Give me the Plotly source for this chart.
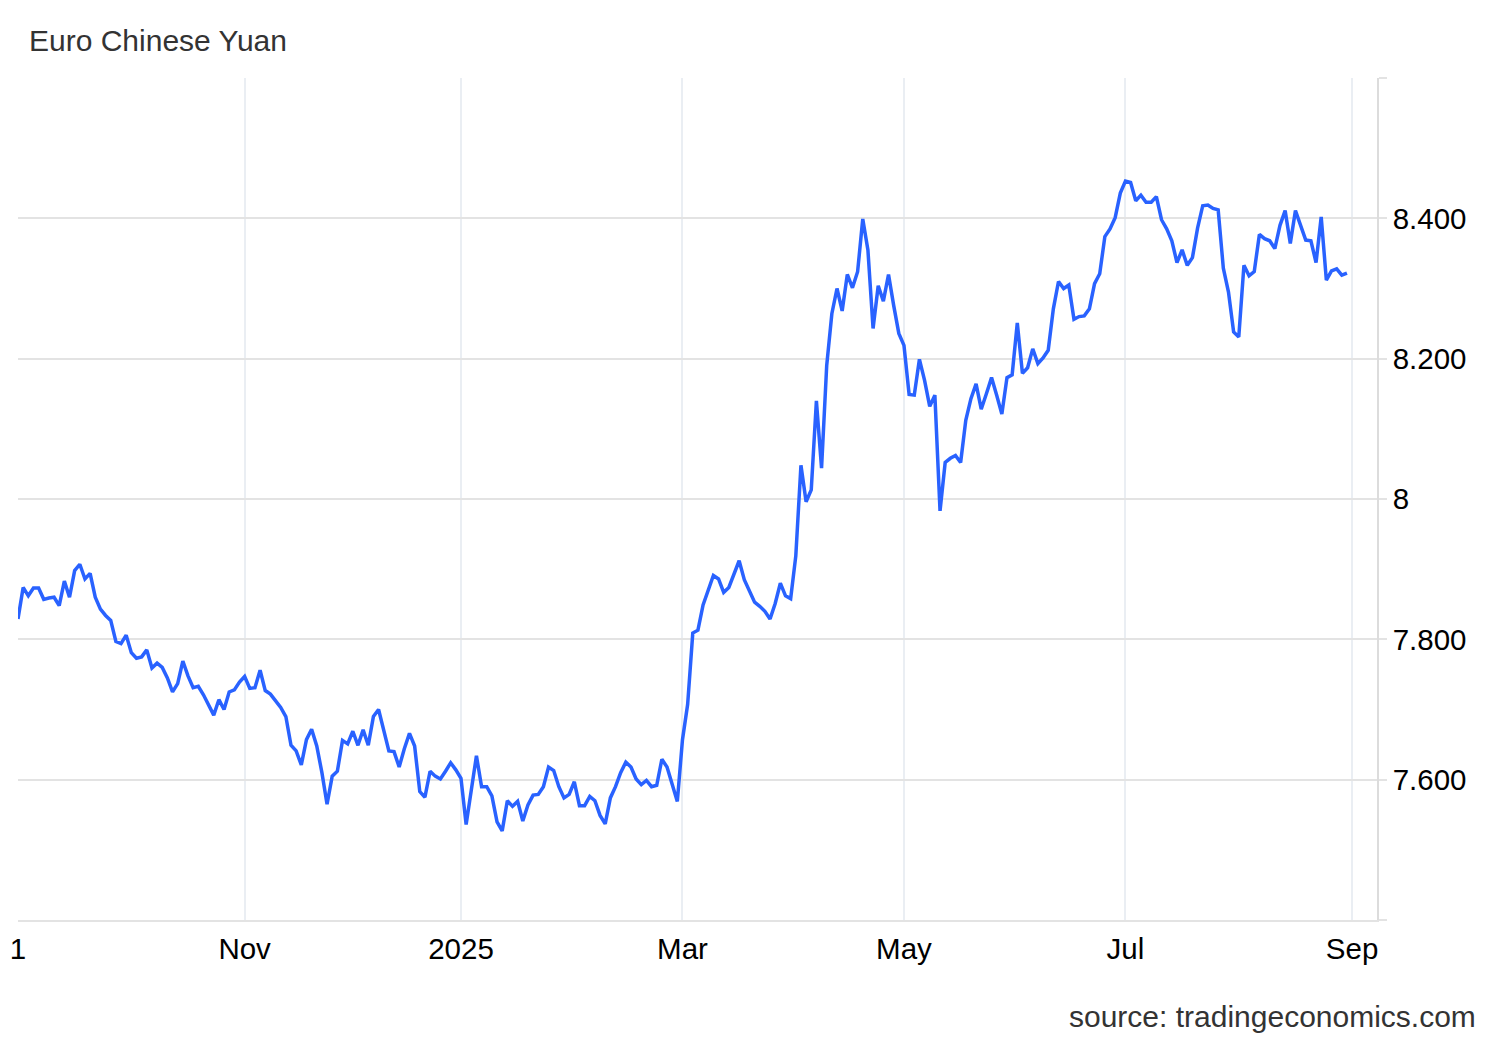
import plotly.graph_objects as go
import pandas as pd

# EUR/CNY daily closes (trading days)
values = [
    7.829, 7.874, 7.862, 7.873, 7.873, 7.857, 7.859, 7.860, 7.848, 7.883,
    7.860, 7.898, 7.907, 7.886, 7.894, 7.860, 7.843, 7.834, 7.827, 7.797,
    7.794, 7.806, 7.781, 7.773, 7.775, 7.785, 7.759, 7.766, 7.760, 7.745,
    7.725, 7.737, 7.769, 7.748, 7.731, 7.733, 7.721, 7.707, 7.692, 7.714,
    7.700, 7.725, 7.728, 7.739, 7.747, 7.730, 7.731, 7.756, 7.727, 7.722,
    7.713, 7.703, 7.690, 7.649, 7.641, 7.621, 7.657, 7.672, 7.648, 7.610,
    7.565, 7.605, 7.612, 7.656, 7.651, 7.669, 7.649, 7.671, 7.649, 7.690,
    7.700, 7.671, 7.641, 7.640, 7.618, 7.644, 7.666, 7.648, 7.583, 7.575,
    7.612, 7.605, 7.601, 7.612, 7.624, 7.614, 7.602, 7.536, 7.588, 7.634,
    7.590, 7.590, 7.577, 7.540, 7.527, 7.570, 7.562, 7.569, 7.541, 7.564,
    7.578, 7.579, 7.590, 7.618, 7.613, 7.590, 7.574, 7.579, 7.597, 7.563,
    7.563, 7.576, 7.570, 7.549, 7.537, 7.574, 7.590, 7.610, 7.625, 7.618,
    7.601, 7.593, 7.599, 7.590, 7.592, 7.629, 7.618, 7.593, 7.569, 7.657,
    7.707, 7.809, 7.813, 7.849, 7.870, 7.891, 7.886, 7.867, 7.874, 7.894,
    7.912, 7.885, 7.870, 7.853, 7.847, 7.840, 7.829, 7.851, 7.880, 7.862,
    7.858, 7.919, 8.048, 7.996, 8.013, 8.140, 8.044, 8.190, 8.264, 8.300,
    8.268, 8.320, 8.301, 8.324, 8.399, 8.355, 8.243, 8.304, 8.282, 8.320,
    8.276, 8.236, 8.219, 8.149, 8.148, 8.199, 8.169, 8.132, 8.148, 7.983,
    8.052, 8.058, 8.062, 8.052, 8.112, 8.143, 8.164, 8.128, 8.150, 8.173,
    8.148, 8.121, 8.173, 8.177, 8.251, 8.179, 8.187, 8.214, 8.193, 8.201,
    8.212, 8.271, 8.310, 8.300, 8.305, 8.256, 8.260, 8.261, 8.271, 8.307,
    8.321, 8.374, 8.385, 8.401, 8.436, 8.453, 8.451, 8.425, 8.433, 8.423,
    8.423, 8.431, 8.398, 8.385, 8.368, 8.337, 8.355, 8.333, 8.344, 8.386,
    8.418, 8.419, 8.414, 8.412, 8.329, 8.295, 8.238, 8.231, 8.333, 8.318,
    8.324, 8.377, 8.371, 8.368, 8.357, 8.390, 8.411, 8.364, 8.411, 8.388,
    8.369, 8.368, 8.337, 8.402, 8.312, 8.325, 8.328, 8.319, 8.322,
]

start_date = "2024-09-02"
end_date = "2025-08-29"
holidays = ["2024-12-25"]
dates = pd.bdate_range(start_date, end_date).drop(pd.to_datetime(holidays))
n = min(len(dates), len(values))
dates = dates[:n]
values = values[:n]

x_tick_dates = ["2024-09-02", "2024-11-01", "2025-01-01", "2025-03-03",
                "2025-05-01", "2025-07-01", "2025-09-01"]
x_tick_labels = ["1", "Nov", "2025", "Mar", "May", "Jul", "Sep"]
y_ticks = [7.4, 7.6, 7.8, 8.0, 8.2, 8.4, 8.6]
y_tick_labels = ["", "7.600", "7.800", "8", "8.200", "8.400", ""]

FONT = "Liberation Sans, Arial, sans-serif"
W, H = 1500, 1040
OFF = 8  # page body margin offset

fig = go.Figure()
fig.add_trace(go.Scatter(
    x=dates, y=values, mode="lines",
    line=dict(color="#2962ff", width=3.5),
    hoverinfo="skip", showlegend=False,
))

plot_l, plot_r, plot_t, plot_b = 18 - OFF, 1377 - OFF, 78 - OFF, 920 - OFF

fig.update_layout(
    width=W, height=H, autosize=False,
    margin=dict(l=plot_l, r=W - plot_r, t=plot_t, b=H - plot_b, autoexpand=False),
    paper_bgcolor="white", plot_bgcolor="white",
    font=dict(family=FONT, size=29.5, color="#000"),
    title=dict(text="Euro Chinese Yuan", xref="container", yref="container",
               x=(29 - OFF) / W, xanchor="left", y=1 - (40 - OFF) / H, yanchor="middle",
               font=dict(family=FONT, size=30, color="#333333")),
    xaxis=dict(
        type="date", automargin=False,
        range=["2024-09-02", "2025-09-05 20:00"],
        rangebreaks=[dict(bounds=["sat", "mon"]), dict(values=holidays)],
        tickmode="array", tickvals=x_tick_dates, ticktext=x_tick_labels,
        showgrid=True, gridcolor="#eaeef3", gridwidth=1.5,
        showline=True, linecolor="#e3e3e3", linewidth=2,
        ticks="", zeroline=False, ticklabelstandoff=2,
        tickfont=dict(family=FONT, size=29.5, color="#000"),
    ),
    yaxis=dict(
        side="right", range=[7.4, 8.6], automargin=False,
        tickmode="array", tickvals=y_ticks, ticktext=y_tick_labels,
        showgrid=True, gridcolor="#e3e3e3", gridwidth=1.5,
        showline=True, linecolor="#dcdcdc", linewidth=1.5,
        ticks="outside", ticklen=8, tickcolor="#e3e3e3", tickwidth=1.5,
        zeroline=False,
        tickfont=dict(family=FONT, size=29.5, color="#000"),
    ),
    annotations=[dict(
        text="source: tradingeconomics.com", xref="paper", yref="paper",
        x=(1478 - 18) / (1377 - 18), y=(920 - 1016) / (920 - 78),
        xanchor="right", yanchor="middle", showarrow=False,
        font=dict(family=FONT, size=30, color="#333333"),
    )],
)

fig.write_html("out.html")
